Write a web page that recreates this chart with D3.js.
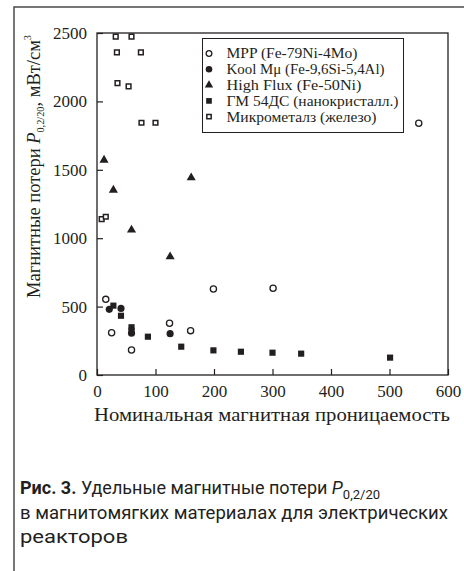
<!DOCTYPE html>
<html lang="ru">
<head>
<meta charset="UTF-8">
<title>Магнитные потери</title>
<script src="https://cdn.jsdelivr.net/npm/d3@7"></script>
<style>
  body { margin: 0; background: #fff; }
  svg text { fill: #231f20; }
</style>
</head>
<body>
<div id="chart"></div>
<script>
  // Series: x = номинальная проницаемость, y = потери, мВт/см3
  const mppX  = [15, 25, 59, 124, 160, 199, 301, 550];
  const mppY  = [553, 309, 183, 378, 324, 629, 634, 1840];
  const koolX = [21, 41, 59, 125];
  const koolY = [480, 487, 305, 302];
  const hfX   = [12, 28, 59, 125, 161];
  const hfY   = [1571, 1352, 1060, 865, 1442];
  const gmX   = [28, 41, 59, 59, 87, 144, 199, 246, 300, 349, 501];
  const gmY   = [507, 433, 349, 325, 280, 207, 180, 170, 163, 156, 127];
  const mmX   = [8, 15, 32, 59, 34, 75, 35, 54, 76, 100];
  const mmY   = [1140, 1157, 2473, 2473, 2359, 2359, 2134, 2110, 1844, 1844];

  const xTicks = [0, 100, 200, 300, 400, 500, 600];
  const yTicks = [0, 500, 1000, 1500, 2000, 2500];

  const legendLabels = [
    "MPP (Fe-79Ni-4Mo)",
    "Kool Mμ (Fe-9,6Si-5,4Al)",
    "High Flux (Fe-50Ni)",
    "ГМ 54ДС (нанокристалл.)",
    "Микрометалз (железо)"
  ];
  // widths of the legend texts in the figure (it is a bit stretched sideways)
  const legendWidths = [131, 158, 135, 172, 150];

  const W = 464, H = 571;
  const plot = {left: 97, top: 33, right: 448, bottom: 375};
  const serif = "Liberation Serif, Times New Roman, serif";
  const sans = "Roboto, Liberation Sans, sans-serif";

  const svg = d3.select("#chart").append("svg")
    .attr("width", W).attr("height", H)
    .style("display", "block");

  // outer frame (open to the right and bottom)
  svg.append("path")
    .attr("d", `M14,${H} V7 H${W}`)
    .attr("fill", "none")
    .attr("stroke", "#4a4a4a")
    .attr("stroke-width", 1.5);

  const x = d3.scaleLinear().domain([0, 600]).range([plot.left, plot.right]);
  const y = d3.scaleLinear().domain([0, 2500]).range([plot.bottom, plot.top]);

  // axes with inward ticks
  const gx = svg.append("g")
    .attr("transform", `translate(0,${plot.bottom})`)
    .call(d3.axisBottom(x).tickValues(xTicks).tickFormat(d3.format("d"))
      .tickSizeInner(-6).tickSizeOuter(0).tickPadding(10));
  const gy = svg.append("g")
    .attr("transform", `translate(${plot.left},0)`)
    .call(d3.axisLeft(y).tickValues(yTicks).tickFormat(d3.format("d"))
      .tickSizeInner(-6).tickSizeOuter(0).tickPadding(10));

  [gx, gy].forEach(g => {
    g.attr("font-family", serif).attr("font-size", 17);
    g.select(".domain").remove();
    g.selectAll("line").attr("stroke", "#231f20").attr("stroke-width", 1.2);
    g.selectAll("text").attr("fill", "#231f20");
  });

  svg.append("rect")
    .attr("x", plot.left).attr("y", plot.top)
    .attr("width", plot.right - plot.left)
    .attr("height", plot.bottom - plot.top)
    .attr("fill", "none")
    .attr("stroke", "#231f20")
    .attr("stroke-width", 1.3);

  // marker styles
  const styles = [
    {type: d3.symbolCircle,   size: 30, fill: "#fff",    stroke: "#231f20", sw: 1.3},
    {type: d3.symbolCircle,   size: 40, fill: "#231f20", stroke: "none",    sw: 0},
    {type: d3.symbolTriangle, size: 36, fill: "#231f20", stroke: "none",    sw: 0},
    {type: d3.symbolSquare,   size: 38, fill: "#231f20", stroke: "none",    sw: 0},
    {type: d3.symbolSquare,   size: 22, fill: "#fff",    stroke: "#231f20", sw: 1.5}
  ];

  const series = [
    d3.zip(mppX, mppY),
    d3.zip(koolX, koolY),
    d3.zip(hfX, hfY),
    d3.zip(gmX, gmY),
    d3.zip(mmX, mmY)
  ];

  series.forEach((pts, i) => {
    const s = styles[i];
    svg.append("g").selectAll("path")
      .data(pts)
      .join("path")
        .attr("transform", d => `translate(${x(d[0])},${y(d[1])})`)
        .attr("d", d3.symbol().type(s.type).size(s.size))
        .attr("fill", s.fill)
        .attr("stroke", s.stroke)
        .attr("stroke-width", s.sw);
  });

  // legend
  const lg = svg.append("g");
  lg.append("rect")
    .attr("x", 202.5).attr("y", 38.5)
    .attr("width", 201).attr("height", 94)
    .attr("fill", "#fff")
    .attr("stroke", "#231f20")
    .attr("stroke-width", 1);

  legendLabels.forEach((label, i) => {
    const cy = 53.5 + i * 15.8;
    const s = styles[i];
    lg.append("path")
      .attr("transform", `translate(209,${cy})`)
      .attr("d", d3.symbol().type(s.type).size(s.size * 0.85))
      .attr("fill", s.fill)
      .attr("stroke", s.stroke)
      .attr("stroke-width", s.sw);
    lg.append("text")
      .attr("x", 226.5).attr("y", cy)
      .attr("dy", "0.35em")
      .attr("textLength", legendWidths[i])
      .attr("lengthAdjust", "spacingAndGlyphs")
      .style("font-family", serif)
      .style("font-size", "14px")
      .text(label);
  });

  // axis titles
  svg.append("text")
    .attr("x", 94)
    .attr("y", 421)
    .attr("textLength", 356)
    .attr("lengthAdjust", "spacingAndGlyphs")
    .style("font-family", serif)
    .style("font-size", "18px")
    .text("Номинальная магнитная проницаемость");

  const yt = svg.append("text")
    .attr("transform", "translate(40,298) rotate(-90)")
    .attr("textLength", 263)
    .attr("lengthAdjust", "spacingAndGlyphs")
    .style("font-family", serif)
    .style("font-size", "18px");
  yt.append("tspan").text("Магнитные потери ");
  yt.append("tspan").style("font-style", "italic").text("P");
  yt.append("tspan").attr("dy", 4).style("font-size", "10px").text("0,2/20");
  yt.append("tspan").attr("dy", -4).text(", мВт/см");
  yt.append("tspan").attr("dy", -9).style("font-size", "10px").text("3");

  // caption
  const cap = svg.append("g").style("font-family", sans).style("font-size", "18px");
  const l1 = cap.append("text").attr("x", 20).attr("y", 494);
  l1.append("tspan").style("font-weight", "bold").text("Рис. 3.");
  l1.append("tspan").text(" Удельные магнитные потери ");
  l1.append("tspan").style("font-style", "italic").text("P");
  l1.append("tspan").attr("dy", 5).style("font-size", "13px").text("0,2/20");
  cap.append("text").attr("x", 20).attr("y", 519)
    .attr("textLength", 428).attr("lengthAdjust", "spacingAndGlyphs")
    .text("в магнитомягких материалах для электрических");
  cap.append("text").attr("x", 20).attr("y", 543)
    .attr("textLength", 108).attr("lengthAdjust", "spacingAndGlyphs")
    .text("реакторов");
</script>
</body>
</html>
